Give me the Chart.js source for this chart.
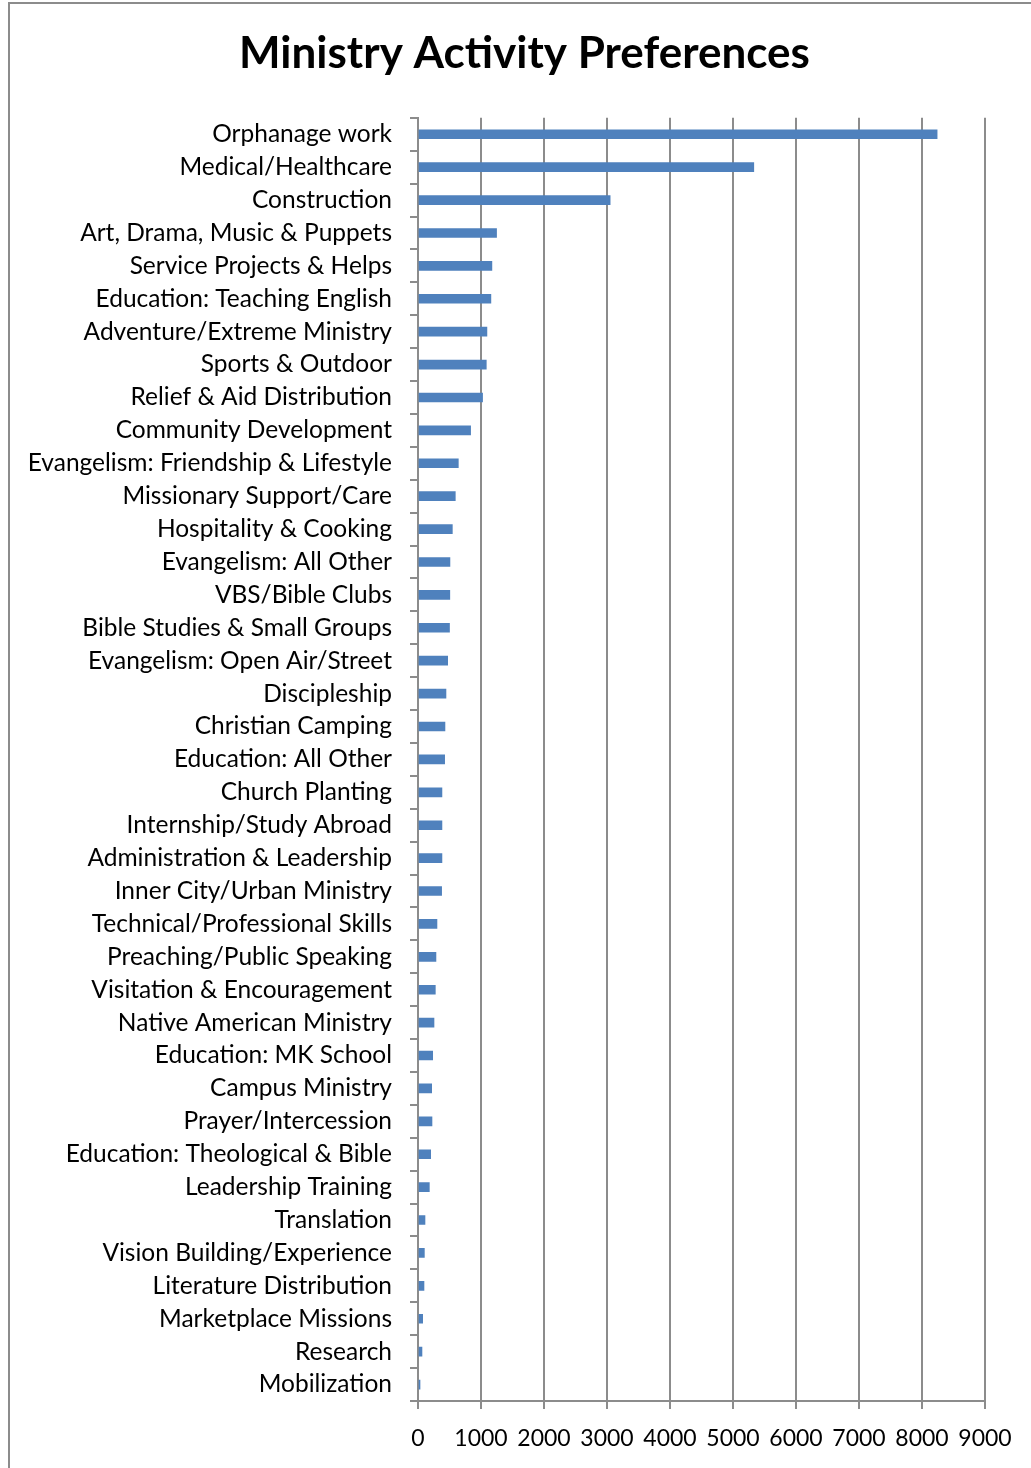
<!DOCTYPE html>
<html>
<head>
<meta charset="utf-8">
<script src="https://cdn.jsdelivr.net/npm/chart.js@4/dist/chart.umd.min.js"></script>
<style>
    html, body { margin: 0; padding: 0; background: #ffffff; }
    #wrap { position: relative; width: 1031px; height: 1468px; overflow: hidden; }
    #frame {
        position: absolute; left: 8px; top: 2px; width: 1100px; height: 1600px;
        border-left: 2px solid #8c8c8c; border-top: 2px solid #8c8c8c;
    }
    #chart { position: absolute; left: 0; top: 0; }
</style>
</head>
<body>
<div id="wrap">
    <div id="frame"></div>
    <canvas id="chart" width="1031" height="1468"></canvas>
</div>
<script>
/* ------------------------------------------------------------
   DATA
------------------------------------------------------------ */
const activities = [
    "Orphanage work", "Medical/Healthcare", "Construction",
    "Art, Drama, Music & Puppets", "Service Projects & Helps",
    "Education: Teaching English", "Adventure/Extreme Ministry",
    "Sports & Outdoor", "Relief & Aid Distribution", "Community Development",
    "Evangelism: Friendship & Lifestyle", "Missionary Support/Care",
    "Hospitality & Cooking", "Evangelism: All Other", "VBS/Bible Clubs",
    "Bible Studies & Small Groups", "Evangelism: Open Air/Street",
    "Discipleship", "Christian Camping", "Education: All Other",
    "Church Planting", "Internship/Study Abroad", "Administration & Leadership",
    "Inner City/Urban Ministry", "Technical/Professional Skills",
    "Preaching/Public Speaking", "Visitation & Encouragement",
    "Native American Ministry", "Education: MK School", "Campus Ministry",
    "Prayer/Intercession", "Education: Theological & Bible",
    "Leadership Training", "Translation", "Vision Building/Experience",
    "Literature Distribution", "Marketplace Missions", "Research", "Mobilization"
];

const responses = [
    8240, 5330, 3050,
    1247, 1173,
    1157, 1094,
    1084, 1025, 835,
    640, 592,
    545, 507, 505,
    500, 471,
    444, 428, 423,
    380, 380, 380,
    375, 301,
    285, 275,
    254, 233, 217,
    222, 201,
    180, 111, 101,
    95, 74, 63, 32
];

const xTicks = [0, 1000, 2000, 3000, 4000, 5000, 6000, 7000, 8000, 9000];

/* ------------------------------------------------------------
   CHART
------------------------------------------------------------ */
const FONT = "Lato, 'Open Sans', sans-serif";
const GRID = "#8c8c8c";

const ctx = document.getElementById("chart").getContext("2d");

new Chart(ctx, {
    type: "bar",
    data: {
        labels: activities,
        datasets: [{
            label: "Responses",
            data: responses,
            backgroundColor: "#4f81bd",
            borderWidth: 0,
            barThickness: 9
        }]
    },
    options: {
        indexAxis: "y",
        responsive: false,
        animation: false,
        layout: {
            padding: { left: 18, right: 0, top: 0, bottom: 0 }
        },
        plugins: {
            legend: { display: false },
            tooltip: { enabled: false },
            title: {
                display: true,
                text: "Ministry Activity Preferences",
                color: "#000000",
                font: { family: FONT, size: 44, weight: "bold", lineHeight: 1.2 },
                padding: { top: 27, bottom: 38 }
            }
        },
        scales: {
            x: {
                min: 0,
                max: 9000,
                afterBuildTicks: scale => {
                    scale.ticks = xTicks.map(v => ({ value: v }));
                },
                ticks: {
                    color: "#000000",
                    font: { family: FONT, size: 23, lineHeight: 1.0 },
                    padding: 18,
                    maxRotation: 0,
                    callback: v => String(v)
                },
                grid: {
                    color: GRID,
                    lineWidth: 2,
                    tickLength: 8
                },
                border: { color: GRID, width: 2 }
            },
            y: {
                afterFit: scale => { scale.width = 400; },
                ticks: {
                    color: "#000000",
                    font: { family: FONT, size: 24.5 },
                    padding: 18,
                    autoSkip: false
                },
                grid: {
                    drawOnChartArea: false,
                    color: GRID,
                    lineWidth: 2,
                    tickLength: 8
                },
                border: { color: GRID, width: 2 }
            },
            // empty right-hand strip so the plot stops at 9000 like the original
            yRight: {
                position: "right",
                afterFit: scale => { scale.width = 46; },
                ticks: { display: false },
                grid: { display: false },
                border: { display: false }
            }
        }
    }
});
</script>
</body>
</html>
